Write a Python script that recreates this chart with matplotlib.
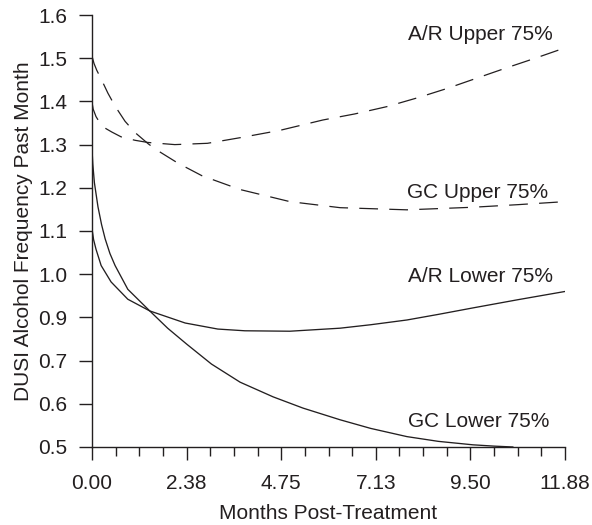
import matplotlib
matplotlib.use("Agg")
import matplotlib.pyplot as plt

plt.rcParams["font.family"] = ["Liberation Sans", "DejaVu Sans"]

INK = "#231f20"

# y values are in the axis' plotting coordinate: ticks sit at 0.6 .. 1.6,
# labelled as in the original figure (which skips "0.8").
YTICK_POS = [0.6, 0.7, 0.8, 0.9, 1.0, 1.1, 1.2, 1.3, 1.4, 1.5, 1.6]
YTICK_LABELS = ["0.5", "0.6", "0.7", "0.9", "1.0", "1.1", "1.2", "1.3", "1.4", "1.5", "1.6"]
XTICK_POS = [0.0, 2.376, 4.752, 7.128, 9.504, 11.88]
XTICK_LABELS = ["0.00", "2.38", "4.75", "7.13", "9.50", "11.88"]

ar_upper_x = [0.0, 0.03, 0.1, 0.2, 0.35, 0.5, 0.73, 1.08, 1.4, 2.08, 2.9, 3.72, 4.72,
              5.8, 6.6, 7.41, 8.2, 8.92, 9.7, 10.42, 11.1, 11.88]
ar_upper_y = [1.398, 1.382, 1.365, 1.350, 1.337, 1.329, 1.318, 1.310, 1.305, 1.300, 1.303,
              1.316, 1.333, 1.357, 1.371, 1.388, 1.409, 1.430, 1.455, 1.478, 1.499, 1.524]

gc_upper_x = [0.0, 0.05, 0.12, 0.23, 0.4, 0.58, 0.83, 1.08, 1.41, 1.6, 2.16, 2.76, 3.72,
              4.97, 6.23, 7.91, 9.57, 10.7, 11.88]
gc_upper_y = [1.505, 1.488, 1.472, 1.452, 1.419, 1.389, 1.354, 1.328, 1.302, 1.289, 1.257,
              1.228, 1.196, 1.168, 1.154, 1.149, 1.155, 1.161, 1.168]

ar_lower_x = [0.0, 0.04, 0.1, 0.23, 0.48, 0.9, 1.45, 2.34, 3.16, 3.84, 4.97, 6.23, 7.0,
              7.91, 8.7, 9.57, 10.7, 11.88]
ar_lower_y = [1.105, 1.080, 1.058, 1.020, 0.982, 0.942, 0.915, 0.887, 0.873, 0.869, 0.868,
              0.875, 0.883, 0.894, 0.907, 0.922, 0.941, 0.960]

gc_lower_x = [0.0, 0.02, 0.06, 0.15, 0.24, 0.33, 0.45, 0.58, 0.9, 1.45, 1.9, 2.38, 3.0,
              3.72, 4.55, 5.3, 6.23, 7.0, 7.91, 8.7, 9.57, 10.1, 10.57]
gc_lower_y = [1.29, 1.255, 1.212, 1.156, 1.115, 1.082, 1.048, 1.020, 0.965, 0.915, 0.875,
              0.838, 0.792, 0.750, 0.716, 0.690, 0.663, 0.643, 0.624, 0.613, 0.605, 0.602,
              0.600]

labels = ["A/R Upper 75%", "GC Upper 75%", "A/R Lower 75%", "GC Lower 75%"]
label_x = [11.58, 11.45, 11.58, 11.50]
label_y = [1.556, 1.190, 0.994, 0.660]

fig = plt.figure(figsize=(5.92, 5.25), dpi=100)
ax = fig.add_axes([0.1554, 0.1486, 0.7990, 0.8228])

dash = (0, (15, 9))
ax.plot(ar_upper_x, ar_upper_y, color=INK, lw=0.9, linestyle=dash)
ax.plot(gc_upper_x, gc_upper_y, color=INK, lw=0.9, linestyle=dash)
ax.plot(ar_lower_x, ar_lower_y, color=INK, lw=0.95)
ax.plot(gc_lower_x, gc_lower_y, color=INK, lw=0.95)

for t, x, y in zip(labels, label_x, label_y):
    ax.text(x, y, t, ha="right", va="center", fontsize=15, color=INK)

ax.set_xlim(0, 11.88)
ax.set_ylim(0.6, 1.6)
ax.set_xticks(XTICK_POS)
ax.set_xticklabels(XTICK_LABELS)
ax.set_xticks([i * 11.88 / 20 for i in range(21)], minor=True)
ax.set_yticks(YTICK_POS)
ax.set_yticklabels(YTICK_LABELS)

for side in ("top", "right"):
    ax.spines[side].set_visible(False)
for side in ("left", "bottom"):
    ax.spines[side].set_linewidth(1.0)
    ax.spines[side].set_color(INK)

ax.tick_params(axis="y", which="major", direction="out", length=9.5,
               width=1.0, color=INK, labelsize=15, labelcolor=INK, pad=8)
ax.tick_params(axis="x", which="major", direction="out", length=9.5,
               width=1.0, color=INK, labelsize=15, labelcolor=INK, pad=10)
ax.tick_params(axis="x", which="minor", direction="out", length=6.2,
               width=1.0, color=INK)
ax.set_xlabel("Months Post-Treatment", fontsize=15, color=INK, labelpad=8)
ax.set_ylabel("DUSI Alcohol Frequency Past Month", fontsize=15, color=INK, labelpad=4)
for sp in ax.spines.values():
    sp.set_clip_on(False)

fig.savefig("out.png", dpi=100)
